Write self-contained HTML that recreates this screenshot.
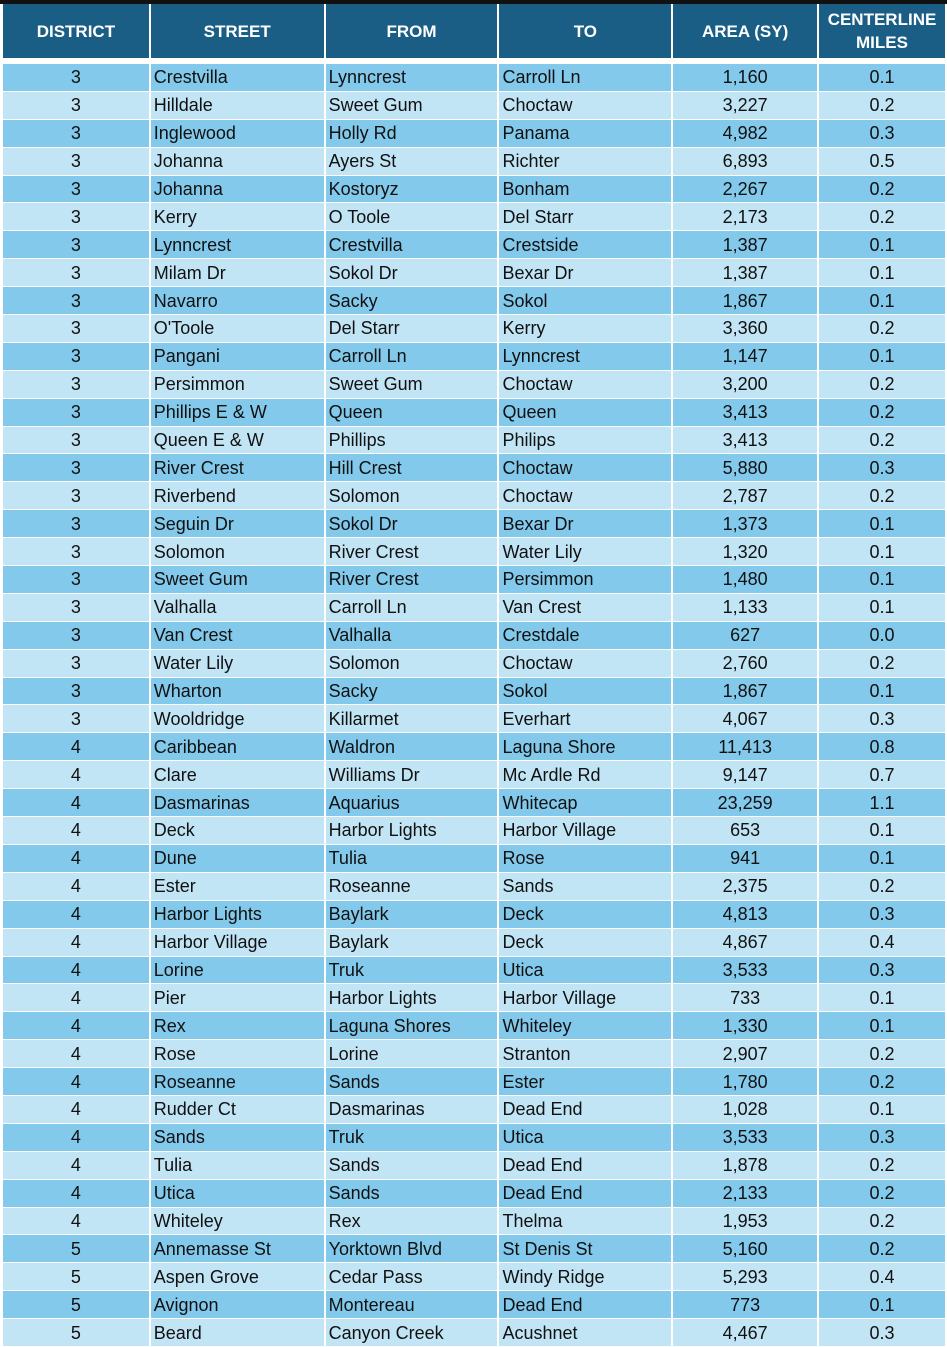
<!DOCTYPE html>
<html><head><meta charset="utf-8"><style>
html,body{margin:0;padding:0;background:#fff;width:947px;height:1347px;overflow:hidden}
.bar{position:absolute;left:0;top:0;width:947px;height:4px;background:#111}
table{position:absolute;left:1px;top:3px;border-collapse:separate;border-spacing:2px 1px;table-layout:fixed;font-family:"Liberation Sans",sans-serif}
th{background:#1a5e86;color:#fff;font-weight:bold;font-size:17px;height:54px;padding:0;line-height:23px}
thead tr th{border-bottom:5px solid #fff}
td{height:26.9px;padding:0;font-size:18px;color:#111;white-space:nowrap;line-height:26px}
tbody tr:nth-child(odd) td{background:#83c9eb}
tbody tr:nth-child(even) td{background:#c2e5f6}
td.c{text-align:center}td.l{padding-left:3px}
</style></head><body>
<table>
<colgroup><col style="width:146px"><col style="width:173px"><col style="width:172px"><col style="width:172px"><col style="width:144px"><col style="width:126px"></colgroup>
<thead><tr><th>DISTRICT</th><th>STREET</th><th>FROM</th><th>TO</th><th>AREA (SY)</th><th>CENTERLINE<br>MILES</th></tr></thead>
<tbody>
<tr><td class="c">3</td><td class="l">Crestvilla</td><td class="l">Lynncrest</td><td class="l">Carroll Ln</td><td class="c">1,160</td><td class="c">0.1</td></tr>
<tr><td class="c">3</td><td class="l">Hilldale</td><td class="l">Sweet Gum</td><td class="l">Choctaw</td><td class="c">3,227</td><td class="c">0.2</td></tr>
<tr><td class="c">3</td><td class="l">Inglewood</td><td class="l">Holly Rd</td><td class="l">Panama</td><td class="c">4,982</td><td class="c">0.3</td></tr>
<tr><td class="c">3</td><td class="l">Johanna</td><td class="l">Ayers St</td><td class="l">Richter</td><td class="c">6,893</td><td class="c">0.5</td></tr>
<tr><td class="c">3</td><td class="l">Johanna</td><td class="l">Kostoryz</td><td class="l">Bonham</td><td class="c">2,267</td><td class="c">0.2</td></tr>
<tr><td class="c">3</td><td class="l">Kerry</td><td class="l">O Toole</td><td class="l">Del Starr</td><td class="c">2,173</td><td class="c">0.2</td></tr>
<tr><td class="c">3</td><td class="l">Lynncrest</td><td class="l">Crestvilla</td><td class="l">Crestside</td><td class="c">1,387</td><td class="c">0.1</td></tr>
<tr><td class="c">3</td><td class="l">Milam Dr</td><td class="l">Sokol Dr</td><td class="l">Bexar Dr</td><td class="c">1,387</td><td class="c">0.1</td></tr>
<tr><td class="c">3</td><td class="l">Navarro</td><td class="l">Sacky</td><td class="l">Sokol</td><td class="c">1,867</td><td class="c">0.1</td></tr>
<tr><td class="c">3</td><td class="l">O'Toole</td><td class="l">Del Starr</td><td class="l">Kerry</td><td class="c">3,360</td><td class="c">0.2</td></tr>
<tr><td class="c">3</td><td class="l">Pangani</td><td class="l">Carroll Ln</td><td class="l">Lynncrest</td><td class="c">1,147</td><td class="c">0.1</td></tr>
<tr><td class="c">3</td><td class="l">Persimmon</td><td class="l">Sweet Gum</td><td class="l">Choctaw</td><td class="c">3,200</td><td class="c">0.2</td></tr>
<tr><td class="c">3</td><td class="l">Phillips E &amp; W</td><td class="l">Queen</td><td class="l">Queen</td><td class="c">3,413</td><td class="c">0.2</td></tr>
<tr><td class="c">3</td><td class="l">Queen E &amp; W</td><td class="l">Phillips</td><td class="l">Philips</td><td class="c">3,413</td><td class="c">0.2</td></tr>
<tr><td class="c">3</td><td class="l">River Crest</td><td class="l">Hill Crest</td><td class="l">Choctaw</td><td class="c">5,880</td><td class="c">0.3</td></tr>
<tr><td class="c">3</td><td class="l">Riverbend</td><td class="l">Solomon</td><td class="l">Choctaw</td><td class="c">2,787</td><td class="c">0.2</td></tr>
<tr><td class="c">3</td><td class="l">Seguin Dr</td><td class="l">Sokol Dr</td><td class="l">Bexar Dr</td><td class="c">1,373</td><td class="c">0.1</td></tr>
<tr><td class="c">3</td><td class="l">Solomon</td><td class="l">River Crest</td><td class="l">Water Lily</td><td class="c">1,320</td><td class="c">0.1</td></tr>
<tr><td class="c">3</td><td class="l">Sweet Gum</td><td class="l">River Crest</td><td class="l">Persimmon</td><td class="c">1,480</td><td class="c">0.1</td></tr>
<tr><td class="c">3</td><td class="l">Valhalla</td><td class="l">Carroll Ln</td><td class="l">Van Crest</td><td class="c">1,133</td><td class="c">0.1</td></tr>
<tr><td class="c">3</td><td class="l">Van Crest</td><td class="l">Valhalla</td><td class="l">Crestdale</td><td class="c">627</td><td class="c">0.0</td></tr>
<tr><td class="c">3</td><td class="l">Water Lily</td><td class="l">Solomon</td><td class="l">Choctaw</td><td class="c">2,760</td><td class="c">0.2</td></tr>
<tr><td class="c">3</td><td class="l">Wharton</td><td class="l">Sacky</td><td class="l">Sokol</td><td class="c">1,867</td><td class="c">0.1</td></tr>
<tr><td class="c">3</td><td class="l">Wooldridge</td><td class="l">Killarmet</td><td class="l">Everhart</td><td class="c">4,067</td><td class="c">0.3</td></tr>
<tr><td class="c">4</td><td class="l">Caribbean</td><td class="l">Waldron</td><td class="l">Laguna Shore</td><td class="c">11,413</td><td class="c">0.8</td></tr>
<tr><td class="c">4</td><td class="l">Clare</td><td class="l">Williams Dr</td><td class="l">Mc Ardle Rd</td><td class="c">9,147</td><td class="c">0.7</td></tr>
<tr><td class="c">4</td><td class="l">Dasmarinas</td><td class="l">Aquarius</td><td class="l">Whitecap</td><td class="c">23,259</td><td class="c">1.1</td></tr>
<tr><td class="c">4</td><td class="l">Deck</td><td class="l">Harbor Lights</td><td class="l">Harbor Village</td><td class="c">653</td><td class="c">0.1</td></tr>
<tr><td class="c">4</td><td class="l">Dune</td><td class="l">Tulia</td><td class="l">Rose</td><td class="c">941</td><td class="c">0.1</td></tr>
<tr><td class="c">4</td><td class="l">Ester</td><td class="l">Roseanne</td><td class="l">Sands</td><td class="c">2,375</td><td class="c">0.2</td></tr>
<tr><td class="c">4</td><td class="l">Harbor Lights</td><td class="l">Baylark</td><td class="l">Deck</td><td class="c">4,813</td><td class="c">0.3</td></tr>
<tr><td class="c">4</td><td class="l">Harbor Village</td><td class="l">Baylark</td><td class="l">Deck</td><td class="c">4,867</td><td class="c">0.4</td></tr>
<tr><td class="c">4</td><td class="l">Lorine</td><td class="l">Truk</td><td class="l">Utica</td><td class="c">3,533</td><td class="c">0.3</td></tr>
<tr><td class="c">4</td><td class="l">Pier</td><td class="l">Harbor Lights</td><td class="l">Harbor Village</td><td class="c">733</td><td class="c">0.1</td></tr>
<tr><td class="c">4</td><td class="l">Rex</td><td class="l">Laguna Shores</td><td class="l">Whiteley</td><td class="c">1,330</td><td class="c">0.1</td></tr>
<tr><td class="c">4</td><td class="l">Rose</td><td class="l">Lorine</td><td class="l">Stranton</td><td class="c">2,907</td><td class="c">0.2</td></tr>
<tr><td class="c">4</td><td class="l">Roseanne</td><td class="l">Sands</td><td class="l">Ester</td><td class="c">1,780</td><td class="c">0.2</td></tr>
<tr><td class="c">4</td><td class="l">Rudder Ct</td><td class="l">Dasmarinas</td><td class="l">Dead End</td><td class="c">1,028</td><td class="c">0.1</td></tr>
<tr><td class="c">4</td><td class="l">Sands</td><td class="l">Truk</td><td class="l">Utica</td><td class="c">3,533</td><td class="c">0.3</td></tr>
<tr><td class="c">4</td><td class="l">Tulia</td><td class="l">Sands</td><td class="l">Dead End</td><td class="c">1,878</td><td class="c">0.2</td></tr>
<tr><td class="c">4</td><td class="l">Utica</td><td class="l">Sands</td><td class="l">Dead End</td><td class="c">2,133</td><td class="c">0.2</td></tr>
<tr><td class="c">4</td><td class="l">Whiteley</td><td class="l">Rex</td><td class="l">Thelma</td><td class="c">1,953</td><td class="c">0.2</td></tr>
<tr><td class="c">5</td><td class="l">Annemasse St</td><td class="l">Yorktown Blvd</td><td class="l">St Denis St</td><td class="c">5,160</td><td class="c">0.2</td></tr>
<tr><td class="c">5</td><td class="l">Aspen Grove</td><td class="l">Cedar Pass</td><td class="l">Windy Ridge</td><td class="c">5,293</td><td class="c">0.4</td></tr>
<tr><td class="c">5</td><td class="l">Avignon</td><td class="l">Montereau</td><td class="l">Dead End</td><td class="c">773</td><td class="c">0.1</td></tr>
<tr><td class="c">5</td><td class="l">Beard</td><td class="l">Canyon Creek</td><td class="l">Acushnet</td><td class="c">4,467</td><td class="c">0.3</td></tr>
</tbody></table>
<div class="bar"></div>
</body></html>
